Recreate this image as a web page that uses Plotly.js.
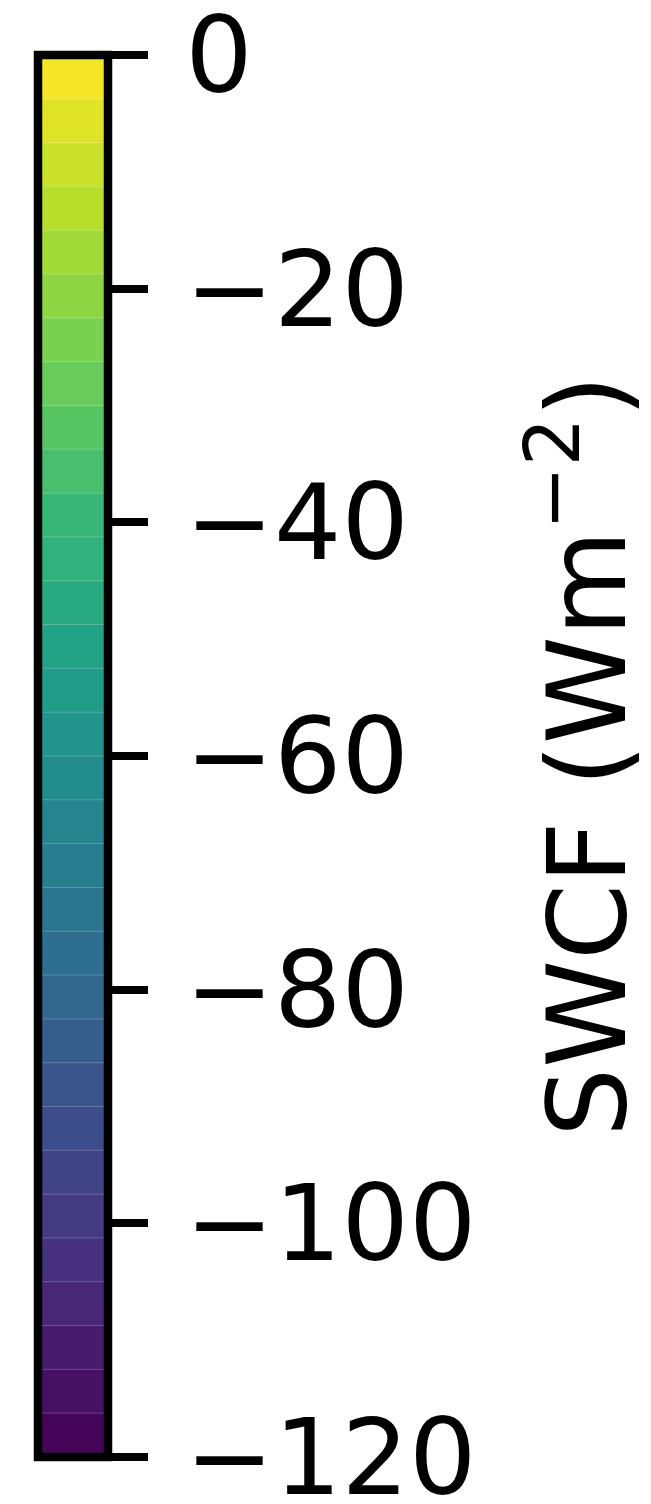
<!DOCTYPE html>
<html>
<head>
<meta charset="utf-8">
<script src="https://cdn.plot.ly/plotly-3.0.1.min.js"></script>
<style>
  html, body { margin: 0; padding: 0; background: #ffffff; }
  #cbar { width: 651px; height: 1504px; }
</style>
</head>
<body>
<div id="cbar"></div>
<script>
// Contour levels of the shortwave cloud forcing field (W m^-2): 32 bands of 3.75
const levels = [-120, -116.25, -112.5, -108.75, -105, -101.25, -97.5, -93.75,
  -90, -86.25, -82.5, -78.75, -75, -71.25, -67.5, -63.75,
  -60, -56.25, -52.5, -48.75, -45, -41.25, -37.5, -33.75,
  -30, -26.25, -22.5, -18.75, -15, -11.25, -7.5, -3.75, 0];
const tickValues = [0, -20, -40, -60, -80, -100, -120];
const tickLabels = ['0', '\u221220', '\u221240', '\u221260', '\u221280', '\u2212100', '\u2212120'];
const barTitle = 'SWCF (Wm<sup>\u22122</sup>)';

// each band is coloured by the mid value of its layer
const bandMid = [];
for (let i = 0; i < levels.length - 1; i++) bandMid.push((levels[i] + levels[i + 1]) / 2);

const viridis = [
  [0.0, '#440154'], [0.111, '#482878'], [0.222, '#3e4989'], [0.333, '#31688e'],
  [0.444, '#26828e'], [0.556, '#1f9e89'], [0.667, '#35b779'], [0.778, '#6ece58'],
  [0.889, '#b5de2b'], [1.0, '#fde725']
];

const bands = {
  type: 'heatmap',
  x: [0],
  y: bandMid,
  z: bandMid.map(v => [v]),
  zmin: levels[0],
  zmax: levels[levels.length - 1],
  colorscale: viridis,
  showscale: false,
  hoverinfo: 'skip'
};

// faint seams between neighbouring bands
const seamX = [], seamY = [];
for (let i = 1; i < levels.length - 1; i++) {
  seamX.push(-0.5, 0.5, null);
  seamY.push(levels[i], levels[i], null);
}
const seams = {
  type: 'scatter', mode: 'lines',
  x: seamX, y: seamY,
  line: { color: 'rgba(255,255,255,0.22)', width: 1 },
  hoverinfo: 'skip', showlegend: false
};

const font = 'DejaVu Sans, Liberation Sans, sans-serif';

const layout = {
  width: 651, height: 1504,
  margin: { l: 38, r: 543, t: 55, b: 47, pad: 0 },
  paper_bgcolor: '#ffffff', plot_bgcolor: '#ffffff',
  showlegend: false,
  xaxis: { range: [-0.5, 0.5], visible: false, fixedrange: true },
  yaxis: {
    side: 'right',
    range: [levels[0], levels[levels.length - 1]],
    tickmode: 'array', tickvals: tickValues, ticktext: tickLabels,
    ticks: 'outside', ticklen: 39, tickwidth: 8, tickcolor: '#000000',
    ticklabelstandoff: 16,
    ticklabeloverflow: 'allow',
    showgrid: false, zeroline: false, showline: false,
    tickfont: { family: font, size: 106, color: '#000000' },
    title: { text: barTitle, standoff: 80, font: { family: font, size: 109, color: '#000000' } },
    automargin: false, fixedrange: true
  },
  shapes: [{
    type: 'rect', xref: 'paper', yref: 'paper', x0: 0, x1: 1, y0: 0, y1: 1,
    line: { color: '#000000', width: 8.5 }, layer: 'above'
  }]
};

Plotly.newPlot('cbar', [bands, seams], layout, { staticPlot: true, displayModeBar: false });
</script>
</body>
</html>
